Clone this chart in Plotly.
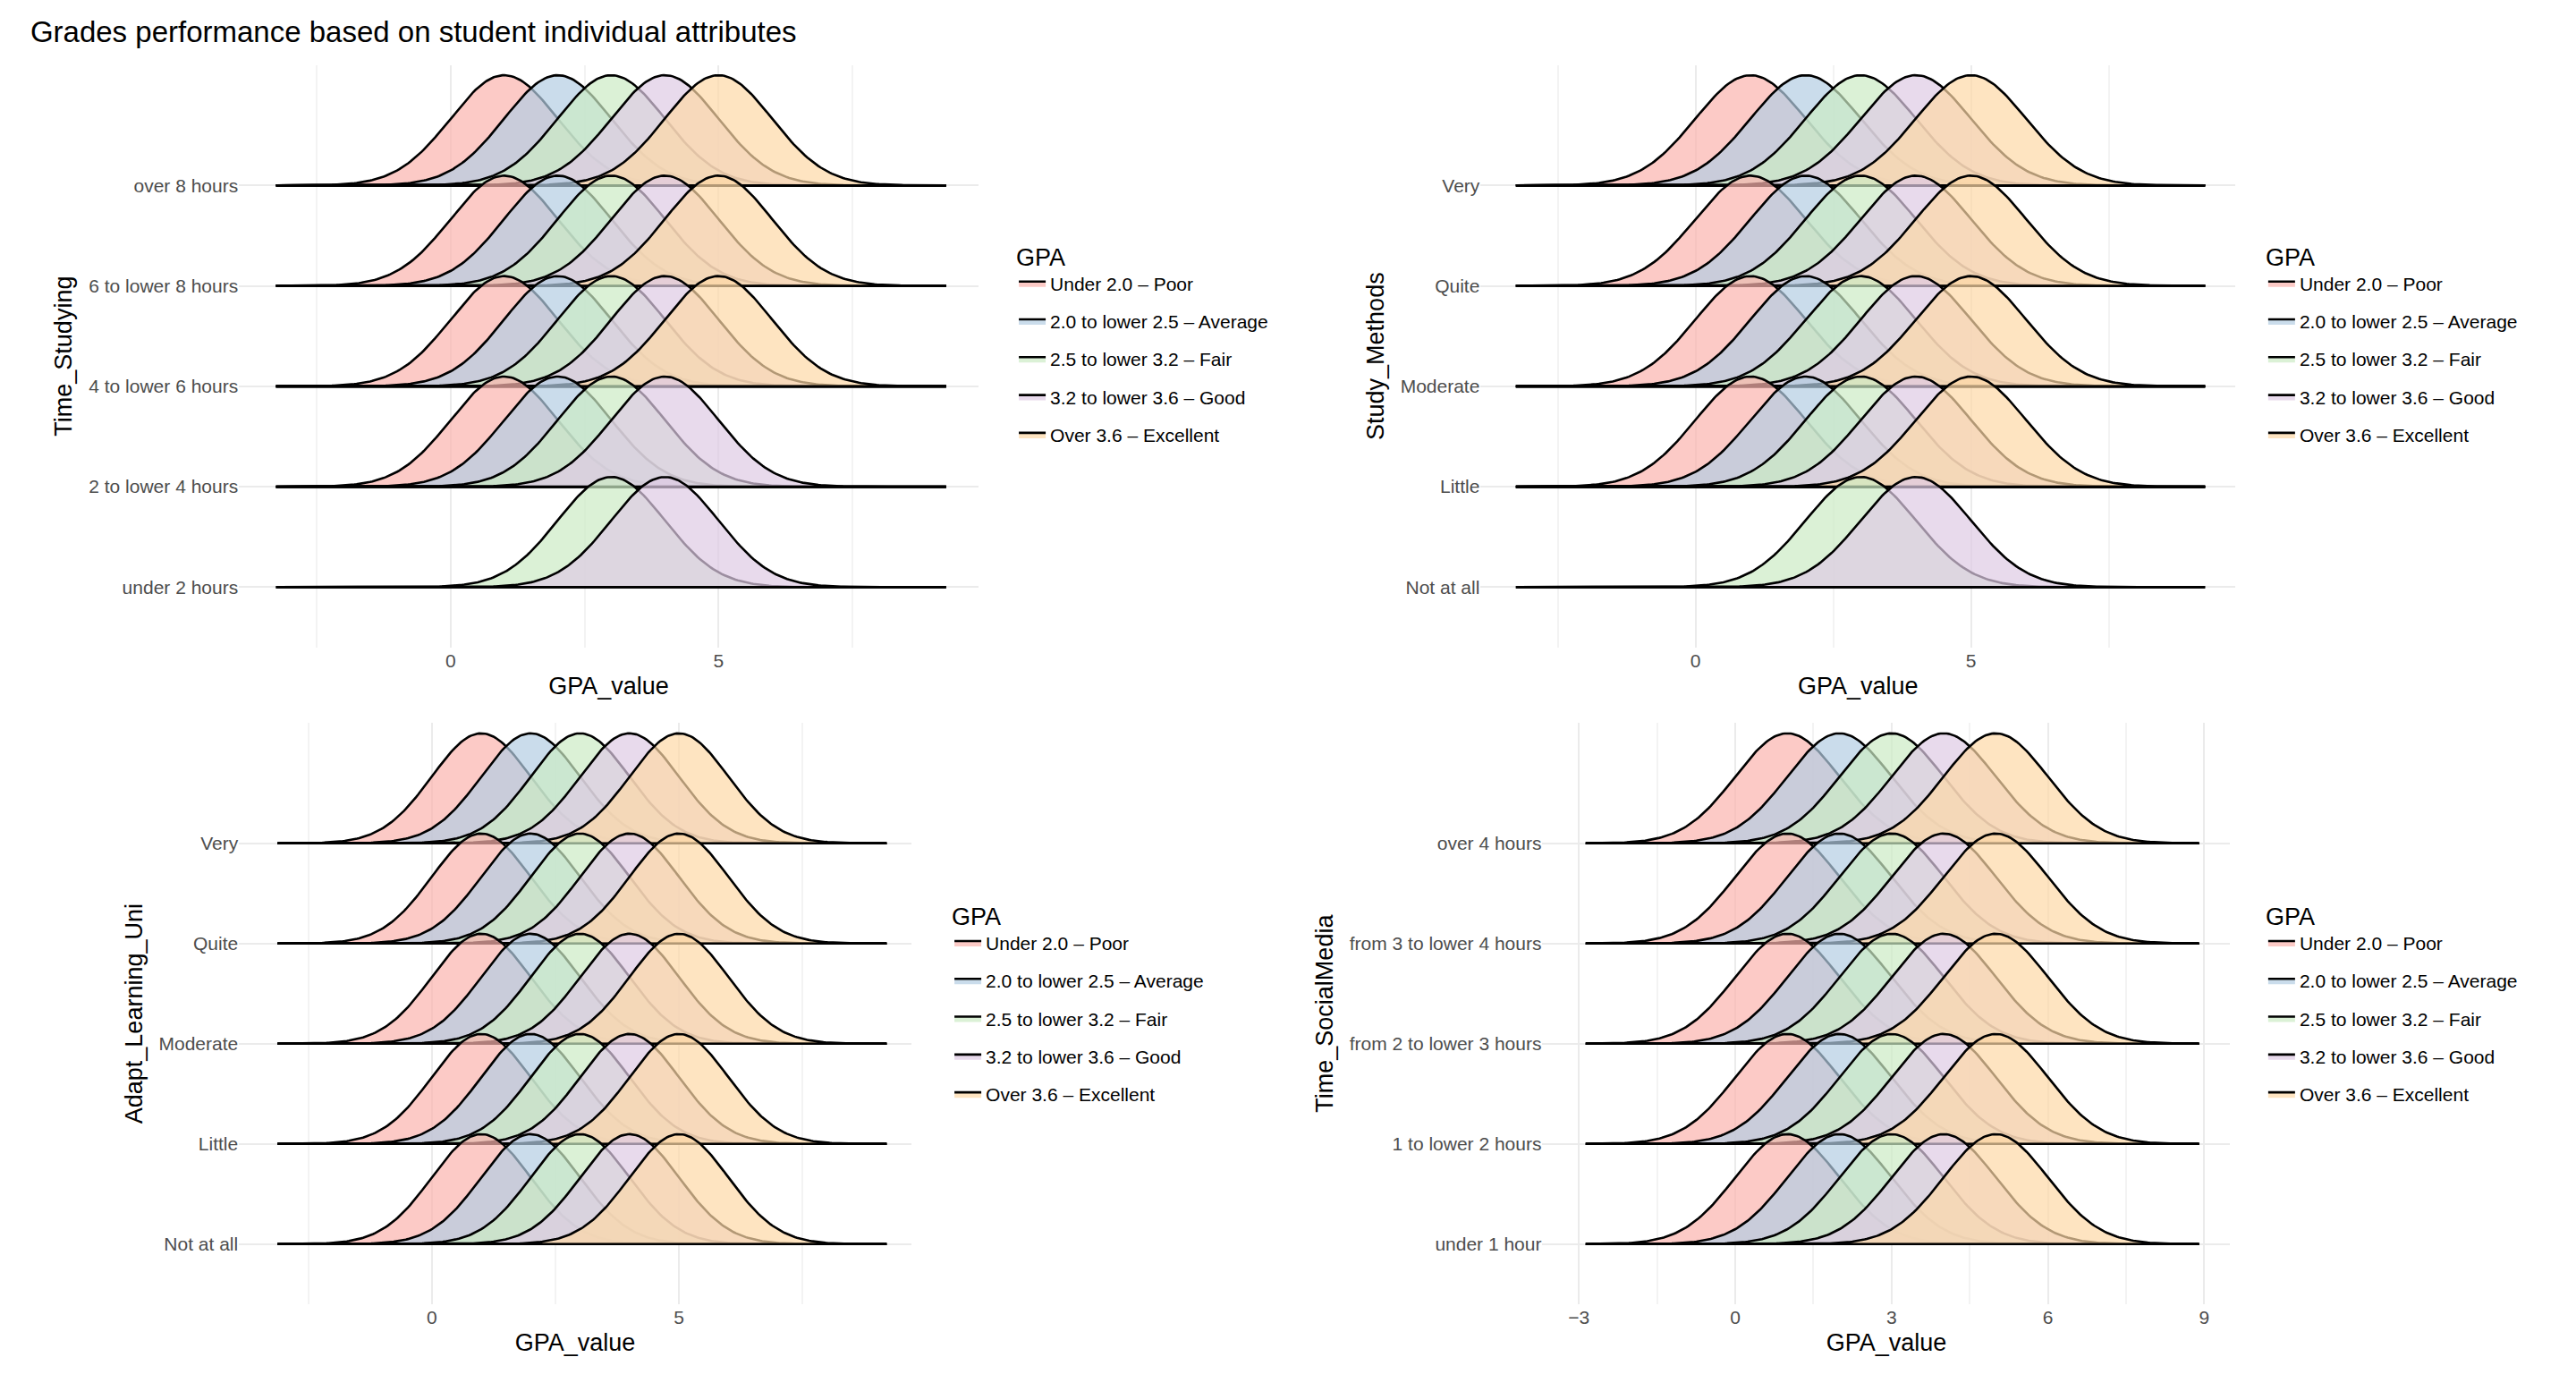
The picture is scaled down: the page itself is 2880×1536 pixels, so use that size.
import numpy as np
import plotly.graph_objects as go

# GPA groups and the GPA_value each group is coded to
GPA_LABELS = ["Under 2.0 – Poor", "2.0 to lower 2.5 – Average", "2.5 to lower 3.2 – Fair",
              "3.2 to lower 3.6 – Good", "Over 3.6 – Excellent"]
GPA_VALUES = [1, 2, 3, 4, 5]
COLORS = ["rgba(251,180,174,0.7)", "rgba(179,205,227,0.7)", "rgba(204,235,197,0.7)",
          "rgba(222,203,228,0.7)", "rgba(254,217,166,0.7)"]

# panels: attribute name, categories (bottom to top), groups present in each category
time_studying = ["under 2 hours", "2 to lower 4 hours", "4 to lower 6 hours",
                 "6 to lower 8 hours", "over 8 hours"]
time_studying_groups = [[2, 3], [0, 1, 2, 3], [0, 1, 2, 3, 4], [0, 1, 2, 3, 4], [0, 1, 2, 3, 4]]

study_methods = ["Not at all", "Little", "Moderate", "Quite", "Very"]
study_methods_groups = [[2, 3], [0, 1, 2, 3, 4], [0, 1, 2, 3, 4], [0, 1, 2, 3, 4], [0, 1, 2, 3, 4]]

adapt_learning = ["Not at all", "Little", "Moderate", "Quite", "Very"]
adapt_learning_groups = [[0, 1, 2, 3, 4]] * 5

time_social = ["under 1 hour", "1 to lower 2 hours", "from 2 to lower 3 hours",
               "from 3 to lower 4 hours", "over 4 hours"]
time_social_groups = [[0, 1, 2, 3, 4]] * 5

BANDWIDTH = 1.0
RIDGE_SCALE = 2.75

panels = [
    dict(name="Time_Studying", cats=time_studying, groups=time_studying_groups,
         xr=(-3.26, 9.25), axis="", legend="legend",
         xdom=[0.09, 0.377], ydom=[0.534, 0.958], xrange=[-3.95, 9.85], dtick=5),
    dict(name="Study_Methods", cats=study_methods, groups=study_methods_groups,
         xr=(-3.26, 9.25), axis="2", legend="legend2",
         xdom=[0.572, 0.865], ydom=[0.534, 0.958], xrange=[-3.9, 9.8], dtick=5),
    dict(name="Adapt_Learning_Uni", cats=adapt_learning, groups=adapt_learning_groups,
         xr=(-3.12, 9.2), axis="3", legend="legend3",
         xdom=[0.09, 0.351], ydom=[0.056, 0.479], xrange=[-3.9, 9.7], dtick=5),
    dict(name="Time_SocialMedia", cats=time_social, groups=time_social_groups,
         xr=(-2.87, 8.9), axis="4", legend="legend4",
         xdom=[0.596, 0.863], ydom=[0.056, 0.479], xrange=[-3.7, 9.5], dtick=3),
]

fig = go.Figure()

for p in panels:
    xs = np.linspace(p["xr"][0], p["xr"][1], 300)
    shown = set()
    # top row first so lower rows sit in front
    for row in range(len(p["cats"]) - 1, -1, -1):
        for g in p["groups"][row]:
            dens = np.exp(-0.5 * ((xs - GPA_VALUES[g]) / BANDWIDTH) ** 2) / (BANDWIDTH * np.sqrt(2 * np.pi))
            y = row + RIDGE_SCALE * dens
            fig.add_trace(go.Scatter(
                x=np.concatenate([xs, xs[::-1]]),
                y=np.concatenate([y, np.full_like(xs, row)]),
                fill="toself", fillcolor=COLORS[g], mode="lines",
                line=dict(color="black", width=2.6),
                name=GPA_LABELS[g], legendgroup=p["legend"] + str(g), legendrank=g,
                showlegend=g not in shown, legend=p["legend"],
                xaxis="x" + p["axis"], yaxis="y" + p["axis"], hoverinfo="skip",
            ))
            shown.add(g)

layout = dict(
    width=2880, height=1536, plot_bgcolor="white", paper_bgcolor="white",
    font=dict(family="Liberation Sans, Arial, sans-serif", color="#222"),
    margin=dict(l=0, r=0, t=0, b=0),
    title=dict(text="Grades performance based on student individual attributes",
               x=0.009, y=0.982, xanchor="left", yanchor="middle",
               font=dict(size=33, color="black")),
)

legend_pos = {"legend": (0.391, 0.835), "legend2": (0.876, 0.835),
              "legend3": (0.366, 0.355), "legend4": (0.876, 0.355)}

for p in panels:
    a = p["axis"]
    layout["xaxis" + a] = dict(
        domain=p["xdom"], range=p["xrange"], anchor="y" + a, dtick=p["dtick"], tick0=0,
        showgrid=True, gridcolor="#EBEBEB", gridwidth=2, zeroline=False, showline=False,
        ticks="", tickfont=dict(size=21, color="#4D4D4D"),
        minor=dict(dtick=p["dtick"] / 2, tick0=0, showgrid=True, gridcolor="#F3F3F3", gridwidth=1.5),
        title=dict(text="GPA_value", font=dict(size=27, color="black"), standoff=8),
    )
    layout["yaxis" + a] = dict(
        domain=p["ydom"], range=[-0.6, 5.2], anchor="x" + a,
        tickvals=list(range(len(p["cats"]))), ticktext=p["cats"],
        showgrid=True, gridcolor="#EBEBEB", gridwidth=2, zeroline=False, showline=False,
        ticks="", tickfont=dict(size=21, color="#4D4D4D"),
        title=dict(text=p["name"], font=dict(size=27, color="black"), standoff=10),
    )
    lx, ly = legend_pos[p["legend"]]
    layout[p["legend"]] = dict(
        x=lx, y=ly, xanchor="left", yanchor="top", bgcolor="rgba(0,0,0,0)",
        font=dict(size=21, color="black"), tracegroupgap=12,
        title=dict(text="GPA", font=dict(size=27, color="black")),
    )

fig.update_layout(**layout)
fig.write_html("out.html")
